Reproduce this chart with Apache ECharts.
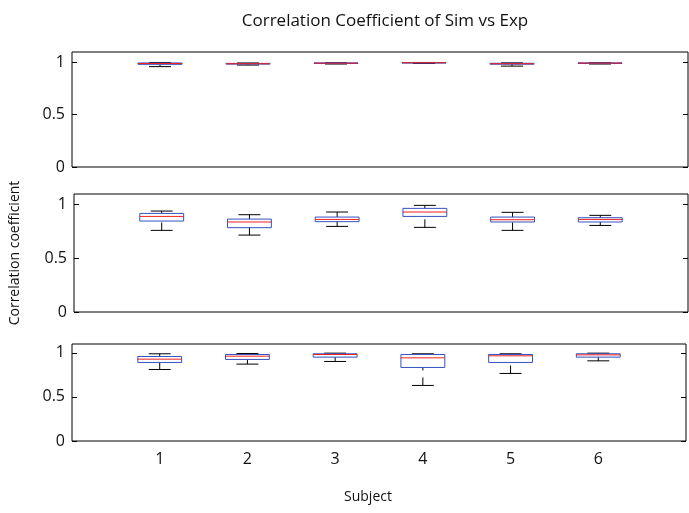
<!DOCTYPE html>
<html>
<head>
<meta charset="utf-8">
<script src="https://cdn.jsdelivr.net/npm/echarts@6/dist/echarts.min.js"></script>
<style>
  html, body { margin: 0; padding: 0; background: #fff; }
  #chart { width: 689px; height: 513px; }
</style>
</head>
<body>
<div id="chart"></div>
<script>
  const subjects = [1, 2, 3, 4, 5, 6]
  const yTicks = [0, 0.5, 1]
  // each row: [lower whisker, q1, median, q3, upper whisker]
  const statsTop = [
    [0.960, 0.982, 0.990, 0.995, 0.999],
    [0.975, 0.984, 0.988, 0.991, 0.995],
    [0.985, 0.990, 0.993, 0.996, 0.998],
    [0.990, 0.994, 0.997, 0.999, 1.000],
    [0.965, 0.983, 0.988, 0.992, 0.996],
    [0.985, 0.990, 0.994, 0.996, 0.998]
  ]
  const statsMid = [
    [0.761, 0.848, 0.891, 0.919, 0.941],
    [0.717, 0.786, 0.839, 0.866, 0.907],
    [0.798, 0.842, 0.863, 0.885, 0.932],
    [0.789, 0.891, 0.932, 0.966, 0.994],
    [0.761, 0.839, 0.860, 0.885, 0.929],
    [0.807, 0.839, 0.863, 0.879, 0.901]
  ]
  const statsBot = [
    [0.811, 0.891, 0.928, 0.958, 0.989],
    [0.872, 0.925, 0.962, 0.981, 0.992],
    [0.902, 0.951, 0.981, 0.989, 0.996],
    [0.630, 0.834, 0.943, 0.981, 0.989],
    [0.766, 0.891, 0.966, 0.981, 0.989],
    [0.909, 0.951, 0.977, 0.989, 0.996]
  ]

  const font = 'Open Sans'
  const textColor = '#111'
  const boxWidth = 0.5
  const capWidth = 0.25

  function renderBox(params, api) {
    const x = api.value(0)
    const pLow = api.coord([x, api.value(1)])
    const pQ1 = api.coord([x, api.value(2)])
    const pMed = api.coord([x, api.value(3)])
    const pQ3 = api.coord([x, api.value(4)])
    const pHigh = api.coord([x, api.value(5)])
    const half = api.size([boxWidth, 0])[0] / 2
    const capHalf = api.size([capWidth, 0])[0] / 2
    const cx = pMed[0]
    const whisker = { stroke: '#000', lineWidth: 1, lineDash: [8, 7] }
    const solid = { stroke: '#000', lineWidth: 1 }
    return {
      type: 'group',
      children: [
        { type: 'line', shape: { x1: cx, y1: pHigh[1], x2: cx, y2: pQ3[1] }, style: whisker },
        { type: 'line', shape: { x1: cx, y1: pLow[1], x2: cx, y2: pQ1[1] }, style: whisker },
        { type: 'line', shape: { x1: cx - capHalf, y1: pHigh[1], x2: cx + capHalf, y2: pHigh[1] }, style: solid },
        { type: 'line', shape: { x1: cx - capHalf, y1: pLow[1], x2: cx + capHalf, y2: pLow[1] }, style: solid },
        {
          type: 'rect',
          shape: { x: cx - half, y: pQ3[1], width: half * 2, height: pQ1[1] - pQ3[1] },
          style: { fill: 'none', stroke: '#3552c0', lineWidth: 1 }
        },
        { type: 'line', shape: { x1: cx - half, y1: pMed[1], x2: cx + half, y2: pMed[1] }, style: { stroke: '#f02020', lineWidth: 1 } }
      ]
    }
  }

  function toData(stats) {
    return stats.map((s, i) => [subjects[i]].concat(s))
  }

  const grids = [
    { left: 72, width: 616, top: 52, height: 115 },
    { left: 72, width: 616, top: 194, height: 118 },
    { left: 72, width: 616, top: 344, height: 97 }
  ].map(g => Object.assign({ show: true, borderColor: '#000', borderWidth: 1, backgroundColor: 'transparent' }, g))

  const xAxes = [0, 1, 2].map(i => ({
    type: 'value',
    gridIndex: i,
    min: 0,
    max: 7,
    interval: 1,
    splitLine: { show: false },
    axisLine: { show: false },
    axisTick: { show: false },
    axisLabel: {
      show: i === 2,
      margin: 10,
      color: textColor,
      fontFamily: font,
      fontSize: 16,
      formatter: v => (subjects.indexOf(v) >= 0 ? String(v) : '')
    }
  }))

  const yAxes = []
  ;[0, 1, 2].forEach(i => {
    ;['left', 'right'].forEach(pos => {
      yAxes.push({
        type: 'value',
        gridIndex: i,
        position: pos,
        min: 0,
        max: 1.1,
        splitLine: { show: false },
        axisLine: { show: false },
        axisTick: { show: true, inside: true, length: 5, customValues: yTicks, lineStyle: { color: '#000' } },
        axisLabel: {
          show: pos === 'left',
          customValues: yTicks,
          margin: 7,
          color: textColor,
          fontFamily: font,
          fontSize: 16,
          formatter: v => String(v)
        },
        name: (i === 1 && pos === 'left') ? 'Correlation coefficient' : '',
        nameLocation: 'middle',
        nameGap: 52,
        nameTextStyle: { color: textColor, fontFamily: font, fontSize: 14 }
      })
    })
  })

  const chart = echarts.init(document.getElementById('chart'))
  chart.setOption({
    animation: false,
    backgroundColor: '#fff',
    title: {
      text: 'Correlation Coefficient of Sim vs Exp',
      left: 380,
      textAlign: 'center',
      top: 8,
      textStyle: { color: textColor, fontFamily: font, fontSize: 17, fontWeight: 'normal' }
    },
    graphic: [{
      type: 'text',
      x: 368,
      y: 497,
      style: { text: 'Subject', fill: textColor, font: '14px "Open Sans"', align: 'center', verticalAlign: 'middle' }
    }],
    grid: grids,
    xAxis: xAxes,
    yAxis: yAxes,
    series: [statsTop, statsMid, statsBot].map((stats, i) => ({
      type: 'custom',
      xAxisIndex: i,
      yAxisIndex: i * 2,
      renderItem: renderBox,
      data: toData(stats),
      clip: false
    }))
  })
</script>
</body>
</html>
